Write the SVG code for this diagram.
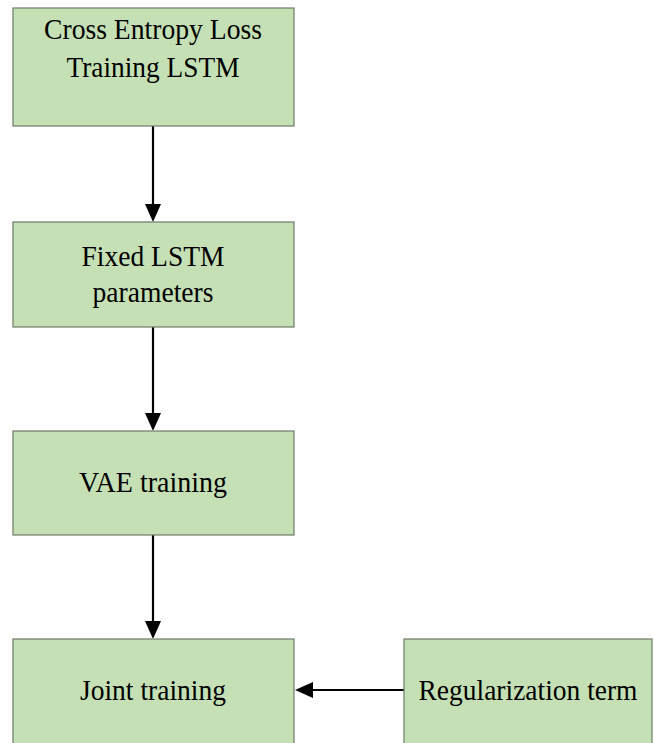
<svg xmlns="http://www.w3.org/2000/svg" width="655" height="743" viewBox="0 0 655 743">
  <style>
    .box { fill: #C5E0B4; stroke: #6F7A6A; stroke-width: 1.2; }
    .lbl { font-family: 'Liberation Serif', 'Times New Roman', Times, serif; font-size: 29px; fill: #000; text-anchor: middle; }
    .edge { stroke: #000; stroke-width: 2.2; fill: none; }
    .head { fill: #000; }
  </style>
  <rect width="655" height="743" fill="#fff"/>

  <g id="connectors">
    <line class="edge" x1="153" y1="126" x2="153" y2="206"/>
    <path class="head" d="M145,204 L161,204 L153,222 Z"/>
    <line class="edge" x1="153" y1="327" x2="153" y2="415"/>
    <path class="head" d="M145,413 L161,413 L153,431 Z"/>
    <line class="edge" x1="153" y1="535" x2="153" y2="623"/>
    <path class="head" d="M145,621 L161,621 L153,639 Z"/>
    <line class="edge" x1="404" y1="690" x2="311" y2="690"/>
    <path class="head" d="M313,682 L313,698 L295,690 Z"/>
  </g>

  <g id="node-cross-entropy">
    <rect class="box" x="13" y="8" width="281" height="118"/>
    <text class="lbl" x="153" y="39" textLength="218" lengthAdjust="spacingAndGlyphs">Cross Entropy Loss</text>
    <text class="lbl" x="153" y="77" textLength="173" lengthAdjust="spacingAndGlyphs">Training LSTM</text>
  </g>
  <g id="node-fixed-lstm">
    <rect class="box" x="13" y="222" width="281" height="105"/>
    <text class="lbl" x="153" y="266" textLength="143" lengthAdjust="spacingAndGlyphs">Fixed LSTM</text>
    <text class="lbl" x="153" y="302" textLength="121" lengthAdjust="spacingAndGlyphs">parameters</text>
  </g>
  <g id="node-vae">
    <rect class="box" x="13" y="431" width="281" height="104"/>
    <text class="lbl" x="153" y="492" textLength="148" lengthAdjust="spacingAndGlyphs">VAE training</text>
  </g>
  <g id="node-joint">
    <rect class="box" x="13" y="639" width="281" height="110"/>
    <text class="lbl" x="153" y="700" textLength="146" lengthAdjust="spacingAndGlyphs">Joint training</text>
  </g>
  <g id="node-regularization">
    <rect class="box" x="404" y="639" width="248" height="110"/>
    <text class="lbl" x="528" y="700" textLength="219" lengthAdjust="spacingAndGlyphs">Regularization term</text>
  </g>
</svg>
